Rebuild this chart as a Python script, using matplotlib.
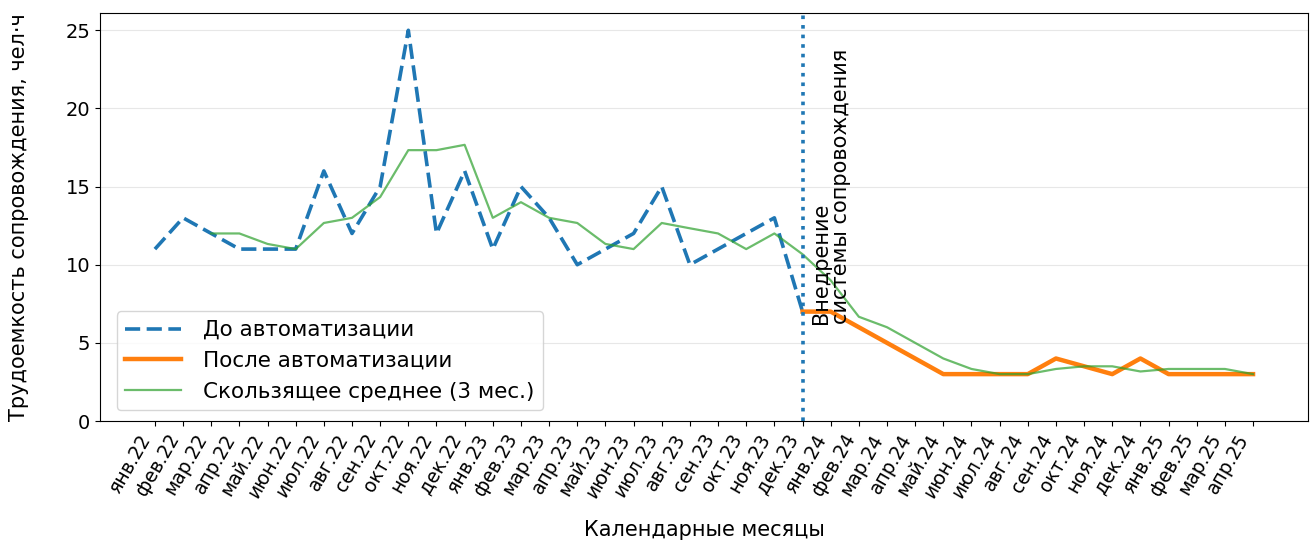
import matplotlib
matplotlib.use('Agg')
import matplotlib.pyplot as plt
import numpy as np

# месяцы янв.22 .. апр.25
months = ['янв.22', 'фев.22', 'мар.22', 'апр.22', 'май.22', 'июн.22',
          'июл.22', 'авг.22', 'сен.22', 'окт.22', 'ноя.22', 'дек.22',
          'янв.23', 'фев.23', 'мар.23', 'апр.23', 'май.23', 'июн.23',
          'июл.23', 'авг.23', 'сен.23', 'окт.23', 'ноя.23', 'дек.23',
          'янв.24', 'фев.24', 'мар.24', 'апр.24', 'май.24', 'июн.24',
          'июл.24', 'авг.24', 'сен.24', 'окт.24', 'ноя.24', 'дек.24',
          'янв.25', 'фев.25', 'мар.25', 'апр.25']

# до автоматизации: янв.22 .. дек.23
before = [11, 13, 12, 11, 11, 11, 16, 12, 15, 25, 12, 16,
          11, 15, 13, 10, 11, 12, 15, 10, 11, 12, 13, 7]

# после автоматизации: дек.23 .. апр.25
after = [7, 7, 6, 5, 4, 3, 3, 3, 3, 4, 3.5, 3, 4, 3, 3, 3, 3]

# скользящее среднее (3 мес.): мар.22 .. апр.25
rolling = [12.0, 12.0, 11.33, 11.0, 12.67, 13.0, 14.33, 17.33, 17.33, 17.67,
           13.0, 14.0, 13.0, 12.67, 11.33, 11.0, 12.67, 12.33, 12.0, 11.0,
           12.0, 10.67, 9.0, 6.67, 6.0, 5.0, 4.0, 3.33, 3.0, 3.0,
           3.33, 3.5, 3.5, 3.17, 3.33, 3.33, 3.33, 3.0]

impl_idx = 23  # дек.23

x_all = np.arange(len(months))
x_before = x_all[:len(before)]
x_after = x_all[impl_idx:impl_idx + len(after)]
x_roll = x_all[len(months) - len(rolling):]

fig = plt.figure(figsize=(13.14, 5.45), dpi=100)
ax = fig.add_axes([0.0761, 0.2275, 0.9193, 0.7485])

ax.plot(x_before, before, color='#1f77b4', linewidth=2.6,
        dashes=(4.2, 1.8), label='До автоматизации')
ax.plot(x_after, after, '-', color='#ff7f0e', linewidth=3.2,
        label='После автоматизации')
ax.plot(x_roll, rolling, '-', color='#2ca02c', alpha=0.7, linewidth=1.6,
        label='Скользящее среднее (3 мес.)')

ax.axvline(impl_idx, color='#1f77b4', linestyle=':', linewidth=2.6)
ax.text(impl_idx + 0.3, 6.2, 'Внедрение\nсистемы сопровождения',
        rotation=90, ha='left', va='bottom', fontsize=15, linespacing=1.0)

ax.set_ylim(bottom=0)
ax.set_xticks(x_all)
ax.set_xticklabels(months, rotation=60, ha='right', fontsize=13.5)
ax.tick_params(axis='y', labelsize=14)
ax.set_xlabel('Календарные месяцы', fontsize=15, labelpad=14)
ax.set_ylabel('Трудоемкость сопровождения, чел·ч', fontsize=15, labelpad=26)
ax.grid(axis='y', alpha=0.3)
ax.legend(loc='lower left', fontsize=15.5, handlelength=2.6,
          handletextpad=1.0, bbox_to_anchor=(0.005, 0.0))

fig.savefig('out.png', dpi=100)
